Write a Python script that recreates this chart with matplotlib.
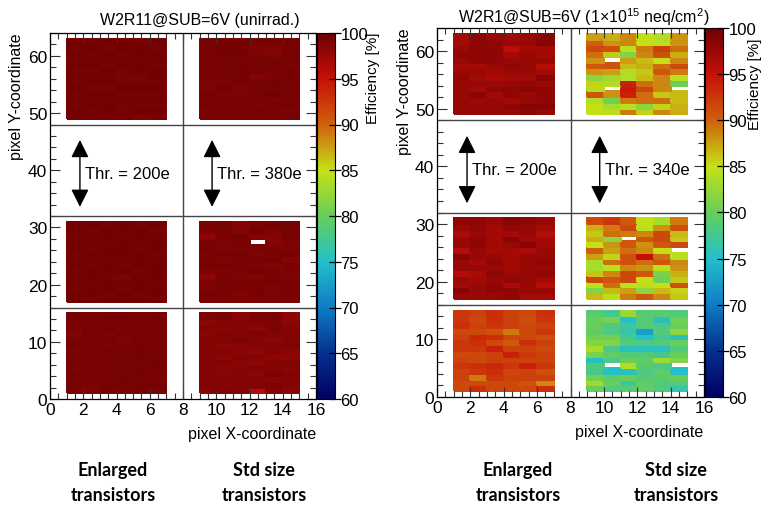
import numpy as np
import matplotlib
matplotlib.use("Agg")
import matplotlib.pyplot as plt
from matplotlib.colors import LinearSegmentedColormap
from matplotlib.ticker import MultipleLocator

plt.rcParams["font.family"] = ["Liberation Sans", "DejaVu Sans"]
plt.rcParams["mathtext.fontset"] = "custom"
plt.rcParams["mathtext.rm"] = "Liberation Sans"

# ---------------------------------------------------------------------------
# Data: efficiency [%] per pixel, each block 14 rows (top row first) x 6 cols
# ---------------------------------------------------------------------------

# W2R11 (unirradiated)
L_ENL_TOP = [
    [99.6, 99.5, 99.6, 99.6, 99.5, 99.6],
    [99.5, 99.6, 99.5, 99.6, 99.6, 99.5],
    [99.6, 99.5, 99.6, 99.5, 99.6, 99.6],
    [99.5, 99.6, 99.6, 99.6, 99.5, 99.6],
    [99.6, 99.6, 99.5, 99.6, 99.6, 99.5],
    [99.5, 99.5, 99.6, 99.5, 99.6, 99.6],
    [99.6, 99.5, 99.5, 99.1, 99.3, 99.6],
    [99.5, 99.6, 99.6, 99.5, 99.5, 99.5],
    [99.6, 99.5, 99.5, 99.6, 99.6, 99.6],
    [99.5, 99.6, 99.6, 99.5, 99.5, 99.5],
    [99.6, 99.5, 99.5, 99.6, 99.6, 99.6],
    [99.5, 99.6, 99.6, 99.3, 99.5, 99.5],
    [99.6, 99.5, 99.6, 99.5, 99.6, 99.6],
    [99.5, 99.6, 99.5, 99.6, 99.2, 99.5],
]
L_STD_TOP = [
    [99.4, 99.5, 99.5, 99.3, 99.5, 99.4],
    [99.3, 99.5, 99.4, 99.0, 98.8, 99.3],
    [99.5, 99.4, 99.5, 99.2, 98.9, 99.5],
    [99.2, 99.4, 99.3, 99.5, 99.4, 99.4],
    [99.4, 99.3, 99.5, 99.3, 99.5, 99.2],
    [99.3, 99.5, 99.4, 99.4, 99.3, 99.5],
    [99.5, 99.3, 99.4, 98.7, 99.2, 99.4],
    [99.2, 99.0, 99.5, 99.4, 99.5, 99.3],
    [99.0, 99.4, 99.2, 99.3, 99.4, 99.5],
    [99.4, 99.1, 99.0, 99.5, 99.6, 99.3],
    [99.3, 99.4, 99.5, 99.4, 99.2, 99.4],
    [99.5, 99.3, 99.4, 99.2, 99.4, 99.5],
    [99.2, 99.5, 99.3, 99.5, 99.3, 99.2],
    [99.4, 99.2, 99.4, 99.3, 99.5, 99.4],
]
L_ENL_MID = [
    [99.6, 99.6, 99.5, 99.6, 99.5, 99.6],
    [99.6, 99.5, 99.6, 99.6, 99.6, 99.5],
    [99.5, 99.6, 99.6, 99.5, 99.6, 99.6],
    [99.6, 99.6, 99.5, 99.6, 99.6, 99.6],
    [99.6, 99.5, 99.6, 99.6, 99.5, 99.6],
    [99.5, 99.6, 99.6, 99.6, 99.6, 99.5],
    [99.6, 99.6, 99.5, 99.6, 99.6, 99.6],
    [99.6, 99.5, 99.6, 99.5, 99.6, 99.6],
    [99.5, 99.6, 99.6, 99.6, 99.5, 99.6],
    [99.6, 99.6, 99.5, 99.2, 99.6, 99.6],
    [99.6, 99.5, 99.6, 99.6, 99.6, 99.5],
    [99.5, 99.6, 99.6, 99.5, 99.6, 99.6],
    [99.6, 99.6, 99.5, 99.6, 99.5, 99.6],
    [99.6, 99.5, 99.6, 99.6, 99.6, 99.5],
]
L_STD_MID = [
    [99.3, 99.5, 98.6, 99.2, 99.4, 99.5],
    [99.2, 99.3, 98.8, 99.4, 99.0, 99.3],
    [98.4, 99.2, 99.4, 98.9, 98.7, 99.4],
    [99.3, 99.1, 99.3, np.nan, 98.8, 99.2],
    [99.4, 99.0, 99.1, 99.3, 99.1, 99.0],
    [99.2, 99.3, 99.4, 99.0, 99.3, 99.4],
    [99.1, 99.0, 99.2, 99.3, 99.4, 98.7],
    [99.3, 99.4, 99.1, 99.2, 98.8, 99.3],
    [99.0, 99.1, 99.3, 99.4, 99.2, 99.1],
    [98.3, 99.2, 99.0, 98.9, 99.3, 99.0],
    [99.2, 99.4, 99.1, 99.3, 99.5, 99.3],
    [99.0, 99.1, 99.3, 99.4, 99.0, 99.2],
    [99.3, 99.2, 98.7, 99.5, 99.1, 99.3],
    [99.1, 99.3, 99.2, 99.0, 99.3, 99.1],
]
L_ENL_BOT = [
    [99.4, 99.3, 99.4, 99.4, 99.3, 99.4],
    [99.2, 99.4, 99.3, 99.4, 99.4, 99.3],
    [99.1, 99.3, 99.4, 99.2, 99.3, 99.4],
    [98.9, 99.4, 99.0, 99.3, 99.4, 99.3],
    [99.3, 99.2, 99.4, 99.0, 99.3, 99.4],
    [99.4, 99.4, 99.2, 99.4, 99.4, 99.3],
    [99.0, 99.3, 99.4, 99.3, 99.4, 99.4],
    [99.3, 99.1, 99.3, 99.4, 99.4, 99.3],
    [99.4, 99.3, 99.4, 99.4, 99.3, 99.4],
    [99.2, 99.4, 99.3, 99.3, 99.4, 99.4],
    [99.4, 99.3, 99.4, 99.4, 99.4, 99.3],
    [99.3, 99.4, 99.3, 99.4, 99.3, 99.1],
    [99.4, 99.2, 99.4, 99.4, 99.4, 99.4],
    [99.3, 99.0, 99.4, 99.3, 99.4, 99.2],
]
L_STD_BOT = [
    [99.0, 99.2, 98.3, 99.0, 99.1, 98.0],
    [98.2, 98.8, 98.6, 98.7, 99.0, 98.3],
    [98.9, 98.5, 98.8, 98.4, 99.2, 98.9],
    [98.5, 98.9, 98.7, 99.2, 98.8, 98.6],
    [98.7, 98.6, 99.0, 98.9, 98.3, 98.8],
    [98.9, 98.2, 98.5, 98.7, 98.6, 99.0],
    [98.6, 98.7, 98.3, 98.0, 98.7, 98.4],
    [98.8, 98.3, 98.9, 98.8, 98.2, 98.1],
    [98.9, 98.7, 98.5, 98.4, 98.6, 98.8],
    [98.6, 98.4, 98.8, 99.0, 98.7, 98.5],
    [98.8, 98.5, 98.9, 98.4, 99.1, 98.6],
    [98.7, 98.9, 98.6, 98.8, 98.5, 98.9],
    [98.9, 98.7, 98.8, 98.6, 99.0, 98.7],
    [98.5, 99.0, 98.6, 96.0, 98.8, 98.4],
]

# W2R1 (1e15 neq/cm2)
R_ENL_TOP = [
    [97.0, 98.5, 97.5, 97.0, 97.5, 98.5],
    [97.0, 98.0, 98.0, 97.5, 97.5, 98.5],
    [97.5, 98.0, 98.0, 95.5, 97.0, 97.0],
    [98.0, 98.0, 98.0, 97.0, 97.5, 97.0],
    [97.5, 98.0, 98.0, 97.5, 97.5, 97.5],
    [97.0, 97.0, 97.5, 98.0, 97.5, 96.0],
    [97.5, 97.5, 97.0, 97.5, 97.5, 97.0],
    [98.0, 97.0, 96.5, 97.0, 97.0, 98.5],
    [97.5, 97.5, 97.5, 97.5, 98.0, 97.5],
    [97.5, 97.0, 98.0, 98.0, 98.5, 98.0],
    [97.5, 98.5, 97.0, 98.0, 97.5, 98.0],
    [97.5, 97.5, 97.5, 97.0, 97.5, 98.0],
    [97.5, 97.5, 97.5, 98.0, 98.5, 98.5],
    [97.5, 97.5, 97.5, 97.5, 98.0, 97.5],
]
R_STD_TOP = [
    [87.5, 87.0, 88.5, 85.0, 84.0, 88.0],
    [90.0, 88.0, 88.5, 85.0, 84.5, 88.0],
    [91.5, 91.0, 84.5, 89.0, 92.0, 89.5],
    [89.5, 86.0, 81.5, 88.5, 91.0, 87.0],
    [88.0, np.nan, 87.5, 86.5, 85.0, 88.5],
    [90.5, 91.0, 86.5, 87.0, 89.5, 91.5],
    [88.0, 87.5, 84.0, 86.0, 90.5, 89.0],
    [82.0, 83.0, 84.0, 86.5, 88.5, 84.5],
    [85.5, 84.0, 94.0, 89.5, 88.5, 80.0],
    [84.0, np.nan, 94.5, 91.5, 88.5, np.nan],
    [90.5, 88.0, 94.0, 89.5, 86.0, 86.5],
    [84.0, 80.5, 89.0, 89.5, 89.5, 86.5],
    [85.0, 83.5, 84.5, 82.0, 85.5, 87.0],
    [85.0, 84.5, 89.0, 85.5, 88.5, 87.0],
]
R_ENL_MID = [
    [98.0, 98.0, 97.5, 98.5, 98.0, 97.5],
    [97.5, 98.0, 97.0, 98.0, 97.5, 97.0],
    [96.5, 97.5, 97.0, 97.0, 97.5, 96.0],
    [97.5, 98.0, 97.0, 98.5, 97.0, 97.0],
    [97.5, 98.0, 97.0, 97.5, 98.5, 97.0],
    [96.0, 97.5, 97.0, 97.0, 96.5, 97.5],
    [98.5, 97.5, 97.5, 97.0, 97.5, 97.5],
    [97.5, 97.0, 98.0, 97.0, 97.5, 98.0],
    [97.5, 97.5, 97.5, 97.0, 97.5, 97.5],
    [96.0, 96.5, 98.0, 97.5, 97.5, 98.0],
    [97.5, 97.0, 97.5, 98.0, 97.5, 97.0],
    [97.0, 97.5, 98.0, 96.5, 97.5, 96.0],
    [98.5, 97.5, 98.0, 98.0, 97.5, 97.5],
    [97.5, 97.5, 97.5, 98.0, 97.0, 97.0],
]
R_STD_MID = [
    [91.5, 92.5, 90.5, 85.0, 83.5, 89.0],
    [87.0, 89.0, 91.5, 84.5, 88.0, 91.0],
    [86.0, 89.5, 89.0, 88.5, 91.5, 86.5],
    [87.0, 82.0, np.nan, 90.5, 91.5, 86.0],
    [85.0, 88.0, 90.5, 88.0, 90.5, 91.5],
    [90.0, 87.5, 89.5, 88.5, 85.0, np.nan],
    [87.5, 85.5, 91.0, 95.0, 89.5, 84.5],
    [83.5, 89.5, 91.0, 89.5, 90.5, 88.5],
    [83.5, 84.5, 88.5, 88.0, 84.5, 88.0],
    [86.0, 88.5, 91.5, 90.5, 81.0, 87.0],
    [91.5, 90.5, 91.5, 85.0, 80.5, 86.0],
    [84.5, 89.5, 84.5, 84.5, 85.0, 91.0],
    [81.5, 86.5, 87.5, 82.0, 86.5, 85.5],
    [86.5, 84.5, 89.0, 90.5, 88.5, 86.0],
]
R_ENL_BOT = [
    [92.5, 92.0, 93.0, 92.0, 91.5, 93.0],
    [92.5, 91.5, 93.0, 92.0, 91.0, 92.5],
    [93.0, 92.0, 92.5, 92.0, 91.5, 92.0],
    [91.5, 91.5, 91.0, 89.0, 91.5, 92.5],
    [92.0, 93.5, 93.0, 91.5, 91.5, 91.0],
    [92.5, 93.0, 91.5, 90.5, 93.0, 92.0],
    [92.5, 92.5, 94.0, 92.0, 92.0, 91.5],
    [91.5, 91.5, 92.0, 94.0, 92.5, 92.0],
    [92.0, 91.5, 92.0, 92.0, 92.0, 92.0],
    [92.5, 93.0, 93.5, 92.5, 94.0, 92.5],
    [92.0, 92.5, 93.0, 91.5, 92.0, 91.0],
    [92.0, 89.0, 92.5, 92.0, 92.0, 92.0],
    [91.5, 91.5, 91.5, 91.5, 91.0, 88.5],
    [91.5, 93.0, 91.5, 91.5, 91.5, 93.0],
]
R_STD_BOT = [
    [79.0, 77.5, 82.5, 79.0, 79.0, 78.5],
    [80.0, 81.0, 75.0, 79.0, 75.5, 80.5],
    [80.0, 78.0, 77.0, 78.5, 78.0, 80.0],
    [79.5, 78.5, 76.5, 72.5, 78.5, 82.0],
    [80.5, 80.5, 77.5, 75.0, 77.5, 75.5],
    [81.5, 81.5, 78.5, 78.0, 78.5, 80.0],
    [83.5, 78.0, 75.5, 75.5, 75.5, 78.5],
    [81.0, 79.5, 78.5, 78.5, 77.5, 80.0],
    [75.0, 78.0, 80.0, 79.5, 83.0, 81.5],
    [78.5, np.nan, 84.0, 79.0, 78.0, np.nan],
    [77.5, 75.0, 75.5, 78.0, 79.5, 75.0],
    [80.5, 79.5, 80.0, 79.0, 79.0, 80.0],
    [83.0, 80.0, 77.0, 79.5, 78.5, 78.5],
    [80.0, 78.5, 79.0, 79.5, 78.5, 76.5],
]

TITLES = ["W2R11@SUB=6V (unirrad.)",
          r"W2R1@SUB=6V (1$\times$10$^{15}$ neq/cm$^{2}$)"]
THRESHOLDS = [("Thr. = 200e", "Thr. = 380e"), ("Thr. = 200e", "Thr. = 340e")]
BOTTOM_LABELS = ["Enlarged\ntransistors", "Std size\ntransistors"]

# ROOT kRainBow palette
STOPS = [0.0, 0.125, 0.25, 0.375, 0.5, 0.625, 0.75, 0.875, 1.0]
RED = [0, 5, 15, 35, 102, 196, 208, 199, 110]
GREEN = [0, 48, 124, 192, 206, 226, 97, 16, 0]
BLUE = [99, 142, 198, 201, 90, 22, 13, 8, 2]


def build_map(blocks):
    """blocks: dict (x0, y0) -> 14x6 list with the top row first."""
    grid = np.full((64, 16), np.nan)
    for (x0, y0), vals in blocks.items():
        arr = np.flipud(np.array(vals, dtype=float))
        grid[y0:y0 + arr.shape[0], x0:x0 + arr.shape[1]] = arr
    return grid


cmap = LinearSegmentedColormap.from_list(
    "rainbow55",
    [(s, (r / 255, g / 255, b / 255)) for s, r, g, b in zip(STOPS, RED, GREEN, BLUE)],
    N=256,
)

maps = [
    build_map({(1, 49): L_ENL_TOP, (9, 49): L_STD_TOP,
               (1, 17): L_ENL_MID, (9, 17): L_STD_MID,
               (1, 1): L_ENL_BOT, (9, 1): L_STD_BOT}),
    build_map({(1, 49): R_ENL_TOP, (9, 49): R_STD_TOP,
               (1, 17): R_ENL_MID, (9, 17): R_STD_MID,
               (1, 1): R_ENL_BOT, (9, 1): R_STD_BOT}),
]

W, H = 763, 506
fig = plt.figure(figsize=(W / 100, H / 100), dpi=100)


def fx(px):
    return px / W


def fy(px):
    return 1 - px / H


# pixel boxes: (left, top, right, bottom) of plot area and colour bar
panels = [
    dict(ax=(50, 34, 316, 400), cb=(317, 335), title=(200, 20), ylab=17,
         zlab=(373, 32), xlab=(316, 435)),
    dict(ax=(437, 29, 704, 398), cb=(705, 723), title=(584, 17), ylab=405,
         zlab=(755, 38), xlab=(703, 433)),
]

xe = np.arange(17)
ye = np.arange(65)

for i, p in enumerate(panels):
    l, t, r, b = p["ax"]
    ax = fig.add_axes([fx(l), fy(b), fx(r - l), (b - t) / H])
    mesh = ax.pcolormesh(xe, ye, maps[i], cmap=cmap, vmin=60, vmax=100,
                         shading="flat", edgecolors="face", linewidth=0.2)
    ax.set_xlim(0, 16)
    ax.set_ylim(0, 64)
    ax.xaxis.set_major_locator(MultipleLocator(2))
    ax.xaxis.set_minor_locator(MultipleLocator(0.5))
    ax.yaxis.set_major_locator(MultipleLocator(10))
    ax.yaxis.set_minor_locator(MultipleLocator(2))
    ax.tick_params(which="both", direction="in", top=True, right=True,
                   labelsize=12.5, width=0.8, color="#333333", pad=2)
    ax.tick_params(which="major", length=7)
    ax.tick_params(which="minor", length=4)
    for s in ax.spines.values():
        s.set_linewidth(0.9)

    for yl in (16, 32, 48):
        ax.axhline(yl, color="#444444", lw=1.0)
    ax.axvline(8, color="#444444", lw=1.0)

    for xa, label in zip((1.8, 9.75), THRESHOLDS[i]):
        ax.annotate("", xy=(xa, 45.3), xytext=(xa, 33.6),
                    arrowprops=dict(arrowstyle="<|-|>", color="black",
                                    lw=1.0, mutation_scale=27,
                                    shrinkA=0, shrinkB=0))
        ax.text(xa + 0.3, 39.5, label, fontsize=12, va="center", ha="left")

    c0, c1 = p["cb"]
    cax = fig.add_axes([fx(c0), fy(b), fx(c1 - c0), (b - t) / H])
    cbar = fig.colorbar(mesh, cax=cax, ticks=np.arange(60, 101, 5))
    cbar.outline.set_linewidth(0.8)
    cax.tick_params(direction="inout", length=8, width=0.9, labelsize=12,
                    pad=0)

    fig.text(fx(p["title"][0]), fy(p["title"][1]), TITLES[i], fontsize=11.5,
             ha="center", va="center")
    fig.text(fx(p["ylab"]), fy(t - 1), "pixel Y-coordinate", fontsize=11.5,
             rotation=90, ha="center", va="top")
    fig.text(fx(p["zlab"][0]), fy(p["zlab"][1]), "Efficiency [%]",
             fontsize=11, rotation=90, ha="center", va="top")
    fig.text(fx(p["xlab"][0]), fy(p["xlab"][1]), "pixel X-coordinate",
             fontsize=11.5, ha="right", va="center")

for cx, label in zip((113, 264, 518, 676), BOTTOM_LABELS * 2):
    fig.text(fx(cx), fy(483), label, fontsize=13, fontweight="bold",
             family="Lato", ha="center", va="center", linespacing=1.55)

fig.savefig("out.png", dpi=100)
